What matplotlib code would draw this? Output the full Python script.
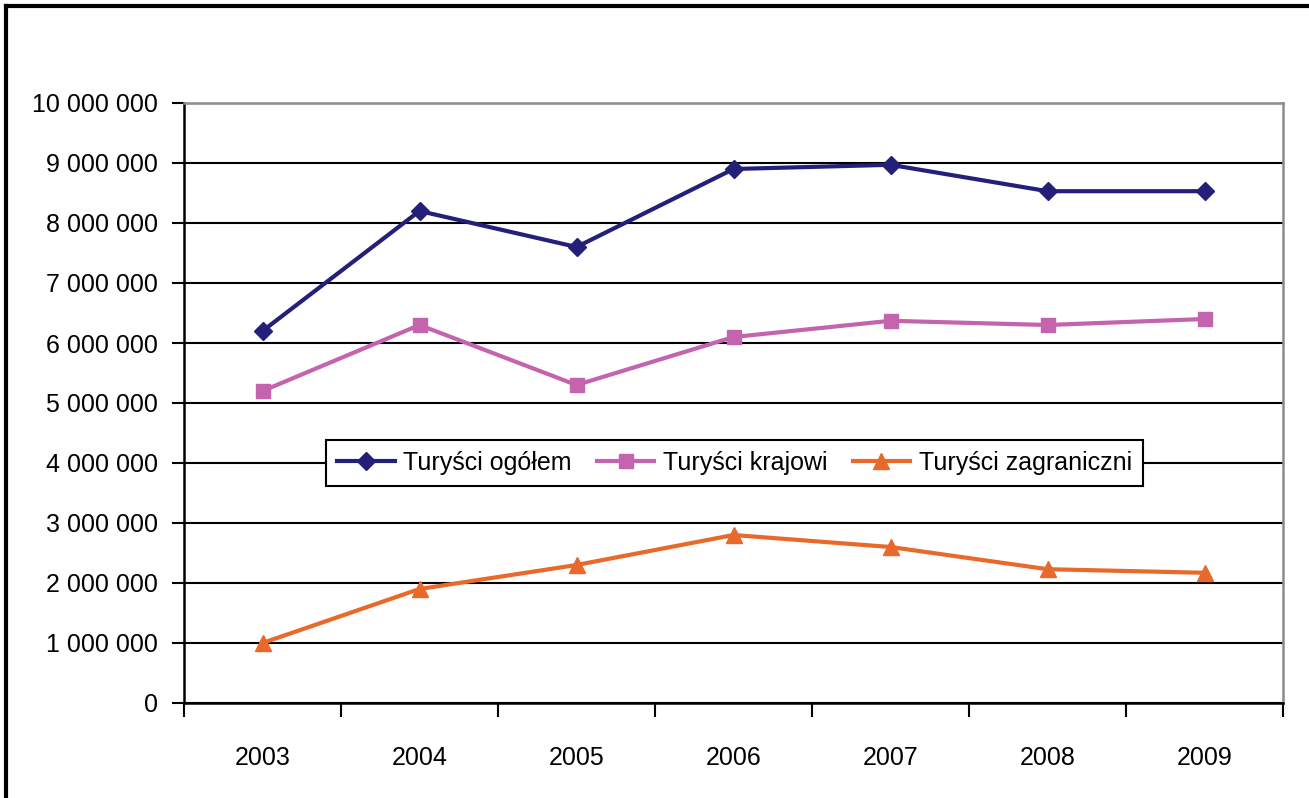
import matplotlib.pyplot as plt
from matplotlib.lines import Line2D
from matplotlib.ticker import FuncFormatter, FixedLocator

# Data
years = ['2003', '2004', '2005', '2006', '2007', '2008', '2009']
ogolem = [6200000, 8200000, 7600000, 8900000, 8970000, 8530000, 8530000]
krajowi = [5200000, 6300000, 5300000, 6100000, 6370000, 6300000, 6400000]
zagraniczni = [1000000, 1900000, 2300000, 2800000, 2600000, 2230000, 2170000]

plt.rcParams['font.family'] = ['Liberation Sans', 'DejaVu Sans']
fs = 18

fig = plt.figure(figsize=(13.09, 7.98), dpi=100)
ax = fig.add_axes([184 / 1309, 1 - 703 / 798, 1099 / 1309, 600 / 798])

x = list(range(len(years)))
ax.plot(x, ogolem, color='#24207A', lw=3, marker='D', ms=9, label='Turyści ogółem')
ax.plot(x, krajowi, color='#C463AE', lw=3, marker='s', ms=10, label='Turyści krajowi')
ax.plot(x, zagraniczni, color='#E8692A', lw=3, marker='^', ms=11, label='Turyści zagraniczni')

ax.set_xlim(-0.5, 6.5)
ax.set_ylim(0, 10000000)
ax.set_yticks(range(0, 10000001, 1000000))
ax.yaxis.set_major_formatter(FuncFormatter(lambda v, p: f'{int(v):,}'.replace(',', ' ')))
ax.grid(axis='y', color='black', lw=1.5)
ax.set_axisbelow(True)

# category labels between boundary ticks
ax.xaxis.set_major_locator(FixedLocator([i - 0.5 for i in range(8)]))
ax.xaxis.set_major_formatter(FuncFormatter(lambda v, p: ''))
ax.xaxis.set_minor_locator(FixedLocator(x))
ax.set_xticklabels(years, minor=True)
ax.tick_params(axis='x', which='major', length=10, width=1.5, direction='out', color='black')
ax.tick_params(axis='x', which='minor', length=0, pad=31, labelsize=fs)
ax.tick_params(axis='y', length=9, width=1.5, direction='out', labelsize=fs, pad=10)

for s in ['left', 'bottom']:
    ax.spines[s].set_color('black')
    ax.spines[s].set_linewidth(1.8)
for s in ['top', 'right']:
    ax.spines[s].set_color('#8C8C8C')
    ax.spines[s].set_linewidth(1.8)

leg = ax.legend(loc='center', bbox_to_anchor=(0.501, 0.40), ncol=3, fontsize=fs,
                frameon=True, fancybox=False, edgecolor='black', handlelength=2.3,
                columnspacing=1.0, handletextpad=0.35, borderpad=0.45)
leg.get_frame().set_linewidth(1.5)
leg.get_frame().set_alpha(1)

# figure frame (left and top edges)
fig.add_artist(Line2D([6 / 1309, 6 / 1309], [0, 1 - 6 / 798], transform=fig.transFigure, color='black', lw=3))
fig.add_artist(Line2D([6 / 1309, 1], [1 - 6 / 798, 1 - 6 / 798], transform=fig.transFigure, color='black', lw=3))

fig.savefig('out.png', dpi=100)
